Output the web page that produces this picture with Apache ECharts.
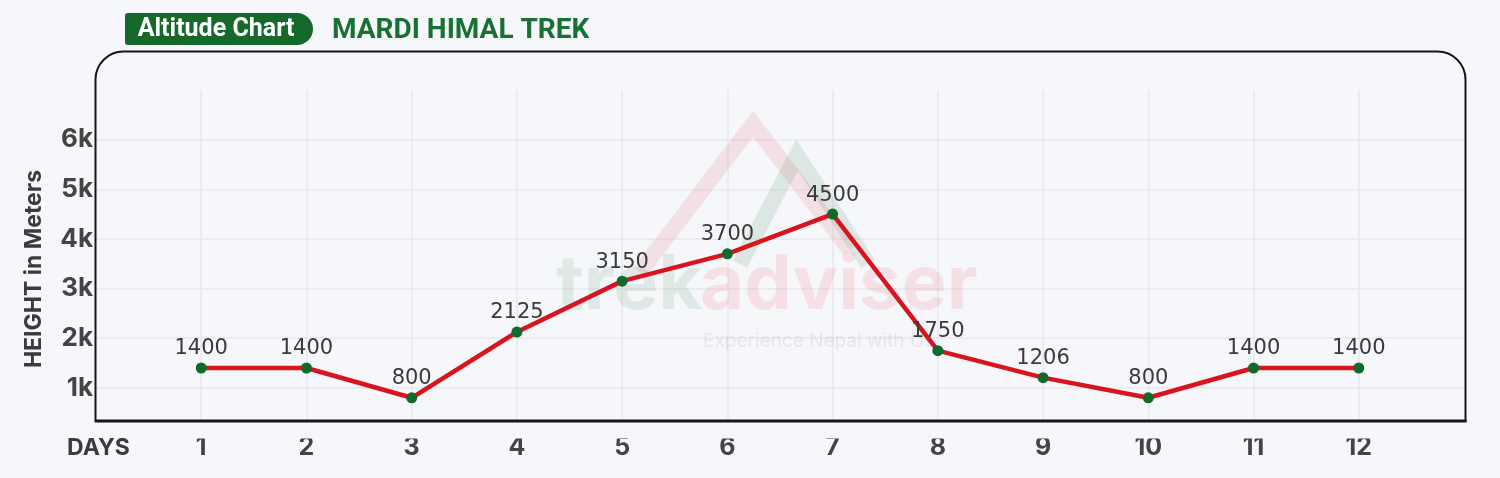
<!DOCTYPE html>
<html>
<head>
<meta charset="utf-8">
<script src="https://cdn.jsdelivr.net/npm/echarts@6/dist/echarts.min.js"></script>
<style>
html,body{margin:0;padding:0;background:#f6f7fb;}
#chart{width:1500px;height:478px;}
</style>
</head>
<body>
<div id="chart"></div>
<script>
// ---- data ----
const days = [1, 2, 3, 4, 5, 6, 7, 8, 9, 10, 11, 12];
const altitudes = [1400, 1400, 800, 2125, 3150, 3700, 4500, 1750, 1206, 800, 1400, 1400];
const yTickLabels = ['1k', '2k', '3k', '4k', '5k', '6k'];
const badgeText = 'Altitude Chart';
const titleText = 'MARDI HIMAL TREK';
const yAxisTitle = 'HEIGHT in Meters';
const xAxisTitle = 'DAYS';

const seriesData = days.map((d, i) => [d, altitudes[i]]);

const BG = '#f6f7fb';
const GRID = '#e7e8ec';
const AXISFONT = 'Inter';
const chart = echarts.init(document.getElementById('chart'), null, {renderer: 'canvas'});

const option = {
  backgroundColor: BG,
  animation: false,
  grid: {left: 96, right: 36, top: 90, bottom: 40.5, containLabel: false},
  xAxis: {
    type: 'value',
    min: 0, max: 13, interval: 1,
    axisLine: {show: false},
    axisTick: {show: false},
    splitLine: {show: true, lineStyle: {width: 1.5, color: ['transparent'].concat(days.map(() => GRID)).concat(['transparent'])}},
    axisLabel: {
      margin: 10,
      verticalAlign: 'middle',
      fontFamily: AXISFONT, fontWeight: 'bold', fontSize: 25, color: '#444',
      formatter: v => (days.indexOf(v) >= 0 ? String(v) : '')
    }
  },
  yAxis: {
    type: 'value',
    min: 0, max: 7000, interval: 1000,
    axisLine: {show: false},
    axisTick: {show: false},
    splitLine: {show: true, lineStyle: {width: 1.5, color: ['transparent'].concat(yTickLabels.map(() => GRID)).concat(['transparent'])}},
    axisLabel: {
      margin: 3,
      verticalAlign: 'middle',
      padding: [0, 0, 4, 0],
      fontFamily: AXISFONT, fontWeight: 'bold', fontSize: 26, color: '#444',
      formatter: v => { const i = v / 1000 - 1; return yTickLabels[i] || ''; }
    }
  },
  graphic: [
    // watermark
    {type: 'polyline', z: 1, silent: true, shape: {points: [[640, 272], [753, 124], [850, 250]]},
     style: {stroke: 'rgba(235,120,130,0.18)', lineWidth: 16, fill: null, lineJoin: 'miter'}},
    {type: 'polyline', z: 1, silent: true, shape: {points: [[740, 264], [797, 155], [868, 264]]},
     style: {stroke: 'rgba(90,150,110,0.16)', lineWidth: 16, fill: null, lineJoin: 'miter'}},
    {type: 'text', z: 1, silent: true, style: {x: 556, y: 324, text: 'trek', fontFamily: AXISFONT, fontWeight: 'bold', fontSize: 76, fill: 'rgba(90,150,110,0.15)', textVerticalAlign: 'bottom'}},
    {type: 'text', z: 1, silent: true, style: {x: 700, y: 324, text: 'adviser', fontFamily: AXISFONT, fontWeight: 'bold', fontSize: 76, fill: 'rgba(235,110,125,0.17)', textVerticalAlign: 'bottom'}},
    {type: 'text', z: 1, silent: true, style: {x: 703, y: 341, text: 'Experience Nepal with Us', fontFamily: AXISFONT, fontSize: 19, fill: 'rgba(120,120,130,0.13)', textVerticalAlign: 'middle'}},
    // cover split-line ends under the frame
    {type: 'rect', z: 3, silent: true, shape: {x: 97, y: 422.5, width: 1367, height: 16}, style: {fill: BG}},
    // frame
    {type: 'rect', z: 4, silent: true, shape: {x: 95.5, y: 51.5, width: 1370, height: 369.5, r: [28, 28, 0, 0]},
     style: {fill: null, stroke: '#161616', lineWidth: 2}},
    {type: 'line', z: 4, silent: true, shape: {x1: 95, y1: 421, x2: 1466.5, y2: 421}, style: {stroke: '#161616', lineWidth: 3}},
    // badge
    {type: 'rect', z: 5, shape: {x: 125, y: 13, width: 188, height: 32, r: [3, 16, 16, 3]}, style: {fill: '#156a2b'}},
    {type: 'text', z: 6, style: {x: 216, y: 30, text: badgeText, fontFamily: 'Roboto', fontWeight: 'bold', fontSize: 25, fill: '#ffffff', textAlign: 'center', textVerticalAlign: 'middle'}},
    {type: 'text', z: 6, style: {x: 332, y: 31, text: titleText, fontFamily: 'Roboto', fontWeight: 'bold', fontSize: 28, fill: '#187132', textAlign: 'left', textVerticalAlign: 'middle'}},
    // axis titles
    {type: 'text', z: 6, x: 34, y: 269, rotation: Math.PI / 2,
     style: {x: 0, y: 0, text: yAxisTitle, fontFamily: AXISFONT, fontWeight: 'bold', fontSize: 23, fill: '#3b3b3b', textAlign: 'center', textVerticalAlign: 'middle'}},
    {type: 'text', z: 6, style: {x: 67, y: 448, text: xAxisTitle, fontFamily: AXISFONT, fontWeight: 'bold', fontSize: 23, fill: '#3b3b3b', textAlign: 'left', textVerticalAlign: 'middle'}}
  ],
  series: [{
    type: 'line',
    data: seriesData,
    z: 5,
    symbol: 'circle',
    symbolSize: 11,
    lineStyle: {color: '#d8141f', width: 4.5},
    itemStyle: {color: '#0f6a2b', borderWidth: 0},
    label: {show: true, position: 'top', distance: 3, fontFamily: 'DejaVu Sans', fontSize: 21, color: '#3a3a3a'},
    emphasis: {disabled: true}
  }]
};
chart.setOption(option);
</script>
</body>
</html>
